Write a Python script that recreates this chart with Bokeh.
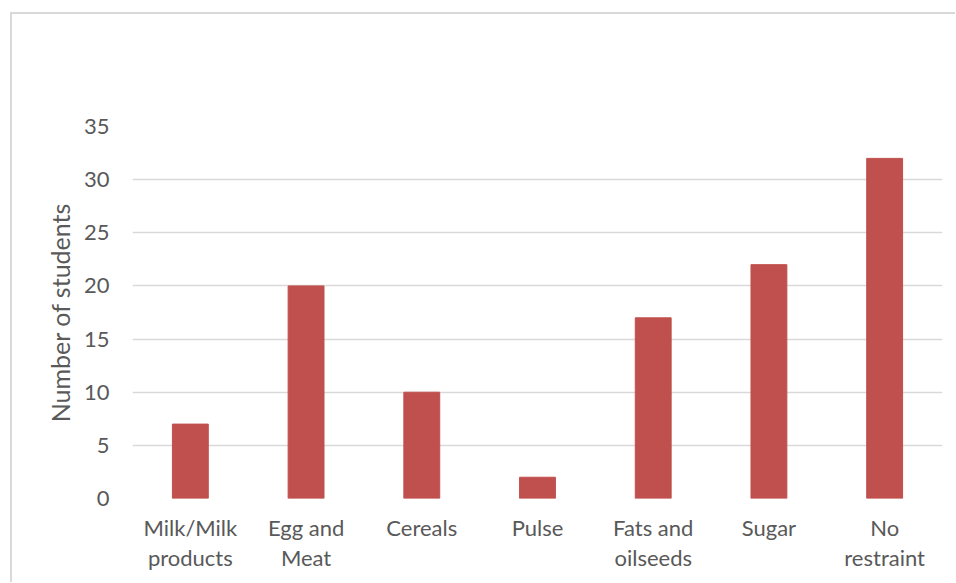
from bokeh.plotting import figure
from bokeh.models import Range1d
from bokeh.embed import file_html
from bokeh.resources import INLINE

categories = ["Milk/Milk\nproducts", "Egg and\nMeat", "Cereals", "Pulse",
              "Fats and\noilseeds", "Sugar", "No\nrestraint"]
students = [7, 20, 10, 2, 17, 22, 32]
y_ticks = [0, 5, 10, 15, 20, 25, 30, 35]

FONT = "Lato"
TXT = "#595959"

p = figure(x_range=categories, y_range=Range1d(0, 35),
           width=945, height=570, output_backend="svg", toolbar_location=None,
           min_border_left=120, min_border_right=15, min_border_top=112, min_border_bottom=86)
p.styles = {"margin-left": "10px", "margin-top": "12px",
            "border-left": "2px solid #d9d9d9", "border-top": "2px solid #d9d9d9"}

p.vbar(x=categories, top=students, width=0.31, color="#C0504D")

p.outline_line_color = None
p.xgrid.grid_line_color = None
p.ygrid.grid_line_color = "#d9d9d9"
p.ygrid.grid_line_width = 1.5
p.yaxis.ticker = y_ticks

for ax in (p.xaxis, p.yaxis):
    ax.axis_line_color = None
    ax.major_tick_line_color = None
    ax.minor_tick_line_color = None
    ax.major_label_text_font = FONT
    ax.major_label_text_font_size = "22px"
    ax.major_label_text_color = TXT

p.xaxis.major_label_standoff = 9
p.xaxis.major_label_text_line_height = 1.13
p.yaxis.major_label_standoff = 17
p.yaxis.axis_label = "Number of students"
p.yaxis.axis_label_text_font = FONT
p.yaxis.axis_label_text_font_style = "normal"
p.yaxis.axis_label_text_font_size = "25px"
p.yaxis.axis_label_text_color = TXT
p.yaxis.axis_label_standoff = 6

open("out.html", "w").write(file_html(p, INLINE))
